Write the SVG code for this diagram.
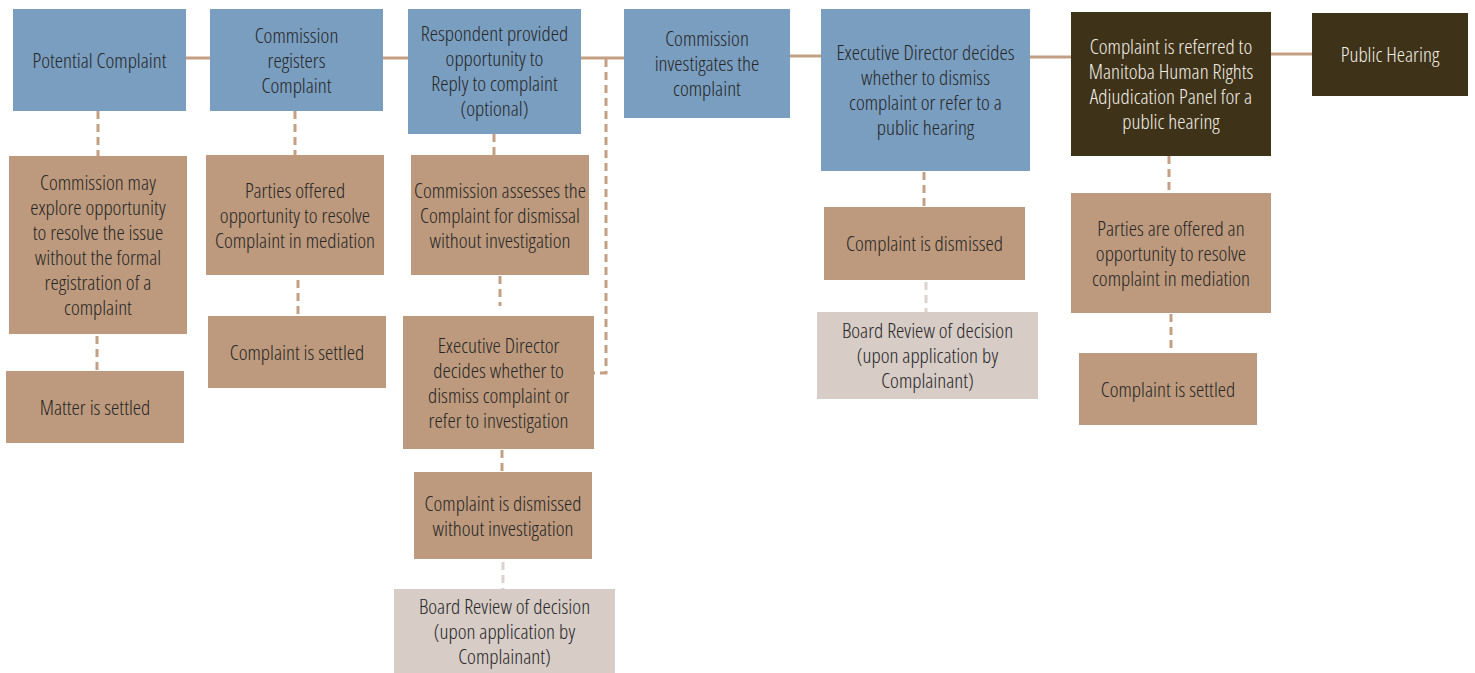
<svg xmlns="http://www.w3.org/2000/svg" width="1475" height="673" viewBox="0 0 1475 673">
<style>
text{font-family:"Open Sans","Liberation Sans",sans-serif;font-size:21px;font-weight:300;font-stretch:75%;text-anchor:middle;fill:#262626}
.blue{fill:#7A9EC0}
.tan{fill:#BD9A7D}
.dark{fill:#3E3219}
.light{fill:#D7CCC6}
.dk text{fill:#F3EFE6}
.solid{stroke:#C49F84;stroke-width:3;fill:none}
.dash{stroke:#C49F84;stroke-width:3;fill:none;stroke-dasharray:8 5}
.dashl{stroke:#DCD3CE;stroke-width:3;fill:none;stroke-dasharray:8 5}
</style>
<g id="connectors">
<line class="solid" x1="186" y1="58" x2="210" y2="58"/>
<line class="solid" x1="383" y1="58" x2="408" y2="58"/>
<line class="solid" x1="581" y1="58" x2="624" y2="58"/>
<line class="solid" x1="790" y1="56" x2="821" y2="56"/>
<line class="solid" x1="1030" y1="57" x2="1071" y2="57"/>
<line class="solid" x1="1271" y1="54" x2="1312" y2="54"/>
<line class="dash" x1="98" y1="111" x2="98" y2="156"/>
<line class="dash" x1="97" y1="336" x2="97" y2="371"/>
<line class="dash" x1="295" y1="111" x2="295" y2="155"/>
<line class="dash" x1="298" y1="280" x2="298" y2="314"/>
<line class="dash" x1="494" y1="134" x2="494" y2="155"/>
<line class="dash" x1="500" y1="276" x2="500" y2="306"/>
<polyline class="dash" points="606,59 606,373 594,373"/>
<line class="dash" x1="502" y1="450" x2="502" y2="472"/>
<line class="dashl" x1="503" y1="562" x2="503" y2="589"/>
<line class="dash" x1="924" y1="172" x2="924" y2="207"/>
<line class="dashl" x1="926" y1="282" x2="926" y2="312"/>
<line class="dash" x1="1169" y1="156" x2="1169" y2="193"/>
<line class="dash" x1="1171" y1="314" x2="1171" y2="353"/>
</g>
<g id="n1"><rect class="blue" x="13" y="9" width="173" height="102"/><text x="99.5" y="68">Potential Complaint</text></g>
<g id="n2"><rect class="blue" x="210" y="9" width="173" height="102"/><text x="296.5" y="43">Commission</text><text x="296.5" y="68">registers</text><text x="296.5" y="93">Complaint</text></g>
<g id="n3"><rect class="blue" x="408" y="9" width="173" height="125"/><text x="494.5" y="41">Respondent provided</text><text x="494.5" y="66">opportunity to</text><text x="494.5" y="91">Reply to complaint</text><text x="494.5" y="116">(optional)</text></g>
<g id="n4"><rect class="blue" x="624" y="9" width="166" height="109"/><text x="707" y="46">Commission</text><text x="707" y="71">investigates the</text><text x="707" y="96">complaint</text></g>
<g id="n5"><rect class="blue" x="821" y="9" width="209" height="162"/><text x="925.5" y="60">Executive Director decides</text><text x="925.5" y="85">whether to dismiss</text><text x="925.5" y="110">complaint or refer to a</text><text x="925.5" y="135">public hearing</text></g>
<g id="n6" class="dk"><rect class="dark" x="1071" y="12" width="200" height="144"/><text x="1171" y="54">Complaint is referred to</text><text x="1171" y="79">Manitoba Human Rights</text><text x="1171" y="104">Adjudication Panel for a</text><text x="1171" y="129">public hearing</text></g>
<g id="n7" class="dk"><rect class="dark" x="1312" y="13" width="156" height="83"/><text x="1390" y="62">Public Hearing</text></g>
<g id="n8"><rect class="tan" x="9" y="156" width="178" height="178"/><text x="98" y="190">Commission may</text><text x="98" y="215">explore opportunity</text><text x="98" y="240">to resolve the issue</text><text x="98" y="265">without the formal</text><text x="98" y="290">registration of a</text><text x="98" y="315">complaint</text></g>
<g id="n9"><rect class="tan" x="6" y="371" width="178" height="72"/><text x="95" y="414.5">Matter is settled</text></g>
<g id="n10"><rect class="tan" x="206" y="155" width="178" height="120"/><text x="295" y="197.5">Parties offered</text><text x="295" y="222.5">opportunity to resolve</text><text x="295" y="247.5">Complaint in mediation</text></g>
<g id="n11"><rect class="tan" x="208" y="316" width="178" height="72"/><text x="297" y="359.5">Complaint is settled</text></g>
<g id="n12"><rect class="tan" x="411" y="155" width="178" height="120"/><text x="500" y="197.5">Commission assesses the</text><text x="500" y="222.5">Complaint for dismissal</text><text x="500" y="247.5">without investigation</text></g>
<g id="n13"><rect class="tan" x="403" y="316" width="191" height="133"/><text x="498.5" y="352.5">Executive Director</text><text x="498.5" y="377.5">decides whether to</text><text x="498.5" y="402.5">dismiss complaint or</text><text x="498.5" y="427.5">refer to investigation</text></g>
<g id="n14"><rect class="tan" x="414" y="472" width="178" height="87"/><text x="503" y="510.5">Complaint is dismissed</text><text x="503" y="535.5">without investigation</text></g>
<g id="n15"><rect class="light" x="394" y="589" width="221" height="84"/><text x="504.5" y="613.5">Board Review of decision</text><text x="504.5" y="638.5">(upon application by</text><text x="504.5" y="663.5">Complainant)</text></g>
<g id="n16"><rect class="tan" x="824" y="207" width="201" height="73"/><text x="924.5" y="251">Complaint is dismissed</text></g>
<g id="n17"><rect class="light" x="817" y="312" width="221" height="87"/><text x="927.5" y="338">Board Review of decision</text><text x="927.5" y="363">(upon application by</text><text x="927.5" y="388">Complainant)</text></g>
<g id="n18"><rect class="tan" x="1071" y="193" width="200" height="120"/><text x="1171" y="235.5">Parties are offered an</text><text x="1171" y="260.5">opportunity to resolve</text><text x="1171" y="285.5">complaint in mediation</text></g>
<g id="n19"><rect class="tan" x="1079" y="353" width="178" height="72"/><text x="1168" y="396.5">Complaint is settled</text></g>
</svg>
